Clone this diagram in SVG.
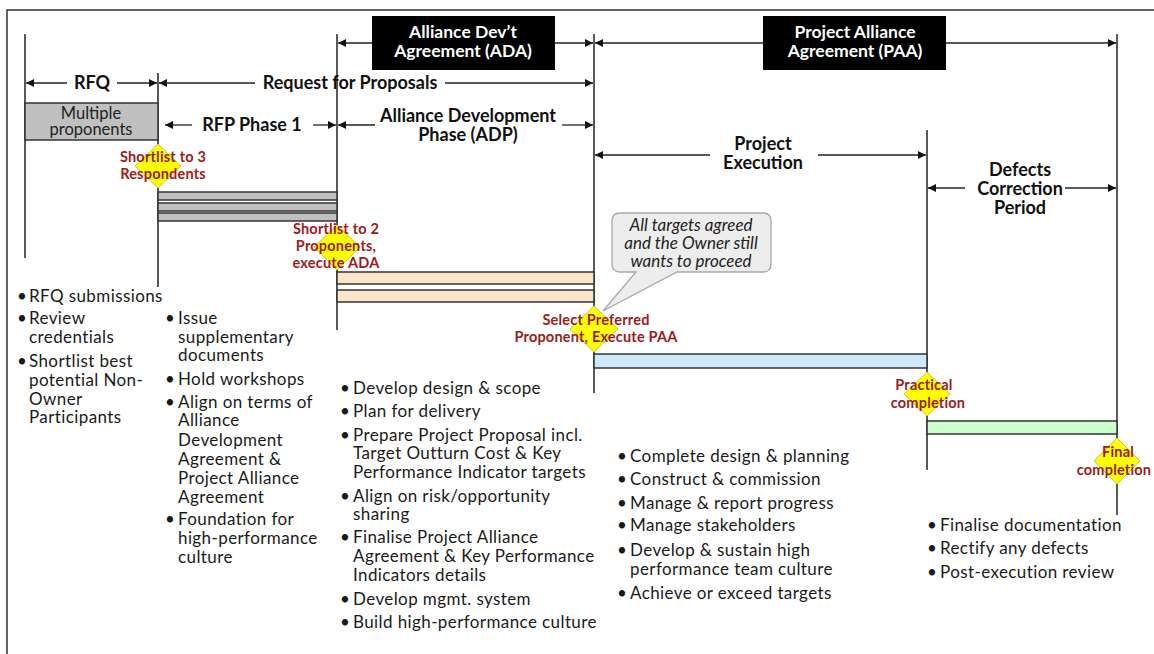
<svg xmlns="http://www.w3.org/2000/svg" width="1154" height="654" viewBox="0 0 1154 654">
<defs>
<marker id="ah" viewBox="0 0 10 10" refX="10" refY="5" markerWidth="9" markerHeight="8" markerUnits="userSpaceOnUse" orient="auto"><path d="M0,0 L10,5 L0,10 z" fill="#111"/></marker>
<style>
.v{stroke:#222;stroke-width:1.5;fill:none}
.a{stroke:#222;stroke-width:1.3;fill:none;marker-end:url(#ah)}
.hd{font-family:Lato,"Liberation Sans",sans-serif;font-weight:bold;font-size:18px;fill:#111;text-anchor:middle}
.bx{font-family:Lato,"Liberation Sans",sans-serif;font-weight:bold;font-size:17.5px;fill:#fff;text-anchor:middle}
.ms{font-family:Lato,"Liberation Sans",sans-serif;font-weight:bold;font-size:14.5px;letter-spacing:0.2px;fill:#9b1c1c;text-anchor:middle}
.bl{font-family:Lato,"Liberation Sans",sans-serif;font-size:17px;letter-spacing:0.4px;fill:#1a1a1a}
.dm{fill:#ffff00;stroke:#c4c43a;stroke-width:1}
.bar{stroke:#333;stroke-width:1.5}
.co{font-family:Lato,"Liberation Sans",sans-serif;font-style:italic;font-size:17px;fill:#222;text-anchor:middle}
.mp{font-family:Lato,"Liberation Sans",sans-serif;font-size:16.5px;fill:#222;text-anchor:middle}
</style>
</defs>
<rect width="1154" height="654" fill="#fff"/>
<rect x="7" y="10" width="1170" height="670" fill="none" stroke="#333" stroke-width="1.5"/>

<g id="gridlines">
<line class="v" x1="25" y1="34" x2="25" y2="258"/>
<line class="v" x1="158" y1="73" x2="158" y2="287"/>
<line class="v" x1="337" y1="34" x2="337" y2="330"/>
<line class="v" x1="594" y1="34" x2="594" y2="393"/>
<line class="v" x1="927" y1="130" x2="927" y2="470"/>
<line class="v" x1="1117" y1="34" x2="1117" y2="515"/>
</g>

<g id="connectors">
<line class="a" x1="372" y1="43" x2="338" y2="43"/>
<line class="a" x1="555" y1="43" x2="593" y2="43"/>
<line class="a" x1="763" y1="43" x2="595" y2="43"/>
<line class="a" x1="946" y1="43" x2="1116" y2="43"/>
<line class="a" x1="67" y1="83" x2="26" y2="83"/>
<line class="a" x1="117" y1="83" x2="157" y2="83"/>
<line class="a" x1="255" y1="83" x2="159" y2="83"/>
<line class="a" x1="445" y1="83" x2="593" y2="83"/>
<line class="a" x1="192" y1="125" x2="165" y2="125"/>
<line class="a" x1="313" y1="125" x2="336" y2="125"/>
<line class="a" x1="375" y1="125" x2="338" y2="125"/>
<line class="a" x1="562" y1="125" x2="593" y2="125"/>
<line class="a" x1="710" y1="155" x2="595" y2="155"/>
<line class="a" x1="818" y1="155" x2="926" y2="155"/>
<line class="a" x1="965" y1="188" x2="928" y2="188"/>
<line class="a" x1="1065" y1="188" x2="1116" y2="188"/>
</g>

<g id="ada-box">
<rect x="372" y="16" width="183" height="54" fill="#000"/>
<text class="bx" x="463" y="38">Alliance Dev’t</text>
<text class="bx" x="463" y="57">Agreement (ADA)</text>
</g>
<g id="paa-box">
<rect x="763" y="16" width="183" height="54" fill="#000"/>
<text class="bx" x="855" y="38">Project Alliance</text>
<text class="bx" x="855" y="57">Agreement (PAA)</text>
</g>

<g id="rfq-label"><text class="hd" x="92" y="89">RFQ</text></g>
<g id="rfp-label"><text class="hd" x="350" y="89">Request for Proposals</text></g>
<g id="rfp1-label"><text class="hd" x="252" y="131">RFP Phase 1</text></g>
<g id="adp-label"><text class="hd" x="468" y="122">Alliance Development</text><text class="hd" x="468" y="141">Phase (ADP)</text></g>
<g id="exec-label"><text class="hd" x="763" y="150">Project</text><text class="hd" x="763" y="169">Execution</text></g>
<g id="dcp-label"><text class="hd" x="1020" y="176">Defects</text><text class="hd" x="1020" y="195">Correction</text><text class="hd" x="1020" y="214">Period</text></g>

<g id="multiple-proponents">
<rect x="25" y="103" width="133" height="37" fill="#c0c0c0" class="bar"/>
<text class="mp" x="91" y="119">Multiple</text>
<text class="mp" x="91" y="135">proponents</text>
</g>

<g id="rfp-bars">
<rect class="bar" x="158" y="192" width="179" height="8" fill="#c0c0c0"/>
<rect class="bar" x="158" y="203" width="179" height="8" fill="#c0c0c0"/>
<rect class="bar" x="158" y="213" width="179" height="8" fill="#c0c0c0"/>
</g>
<g id="adp-bars">
<rect class="bar" x="337" y="272" width="257" height="12" fill="#fbe5c9"/>
<rect class="bar" x="337" y="290" width="257" height="12" fill="#fbe5c9"/>
</g>
<g id="exec-bar"><rect class="bar" x="594" y="354" width="333" height="14" fill="#cde9fb"/></g>
<g id="dcp-bar"><rect class="bar" x="927" y="421" width="190" height="13" fill="#ccffcc"/></g>

<g id="callout">
<path d="M620,213 H763 Q771,213 771,221 V264 Q771,272 763,272 H677 L603,311 L636,272 H620 Q612,272 612,264 V221 Q612,213 620,213 Z" fill="#ededed" stroke="#a8a8a8" stroke-width="1.3"/>
<text class="co" x="691" y="231">All targets agreed</text>
<text class="co" x="691" y="249">and the Owner still</text>
<text class="co" x="691" y="267">wants to proceed</text>
</g>

<g id="m-shortlist3">
<path class="dm" d="M158,144 L181,166 L158,188 L135,166 Z"/>
<text class="ms" x="163" y="162">Shortlist to 3</text>
<text class="ms" x="163" y="179">Respondents</text>
</g>
<g id="m-shortlist2">
<path class="dm" d="M337,225 L360,247 L337,270 L314,247 Z"/>
<text class="ms" x="336" y="234">Shortlist to 2</text>
<text class="ms" x="336" y="251">Proponents,</text>
<text class="ms" x="336" y="268">execute ADA</text>
</g>
<g id="m-preferred">
<path class="dm" d="M594,306 L618,329 L594,352 L570,329 Z"/>
<text class="ms" x="596" y="325">Select Preferred</text>
<text class="ms" x="596" y="342">Proponent, Execute PAA</text>
</g>
<g id="m-practical">
<path class="dm" d="M927,372 L950,394 L927,416 L904,394 Z"/>
<text class="ms" x="924" y="390">Practical</text>
<text class="ms" x="928" y="408">completion</text>
</g>
<g id="m-final">
<path class="dm" d="M1117,438 L1140,461 L1117,484 L1094,461 Z"/>
<text class="ms" x="1118" y="457">Final</text>
<text class="ms" x="1114" y="475">completion</text>
</g>

<g id="list-rfq" class="bl">
<text x="17" y="302">•</text><text x="29" y="302">RFQ submissions</text>
<text x="17" y="324">•</text><text x="29" y="324">Review</text>
<text x="29" y="343">credentials</text>
<text x="17" y="367">•</text><text x="29" y="367">Shortlist best</text>
<text x="29" y="386">potential Non-</text>
<text x="29" y="405">Owner</text>
<text x="29" y="423">Participants</text>
</g>

<g id="list-rfp1" class="bl">
<text x="165" y="324">•</text><text x="178" y="324">Issue</text>
<text x="178" y="343">supplementary</text>
<text x="178" y="361">documents</text>
<text x="165" y="385">•</text><text x="178" y="385">Hold workshops</text>
<text x="165" y="408">•</text><text x="178" y="408">Align on terms of</text>
<text x="178" y="426">Alliance</text>
<text x="178" y="446">Development</text>
<text x="178" y="465">Agreement &amp;</text>
<text x="178" y="484">Project Alliance</text>
<text x="178" y="503">Agreement</text>
<text x="165" y="525">•</text><text x="178" y="525">Foundation for</text>
<text x="178" y="544">high-performance</text>
<text x="178" y="563">culture</text>
</g>

<g id="list-adp" class="bl">
<text x="340" y="394">•</text><text x="353" y="394">Develop design &amp; scope</text>
<text x="340" y="417">•</text><text x="353" y="417">Plan for delivery</text>
<text x="340" y="441">•</text><text x="353" y="441">Prepare Project Proposal incl.</text>
<text x="353" y="459">Target Outturn Cost &amp; Key</text>
<text x="353" y="478">Performance Indicator targets</text>
<text x="340" y="502">•</text><text x="353" y="502">Align on risk/opportunity</text>
<text x="353" y="520">sharing</text>
<text x="340" y="543">•</text><text x="353" y="543">Finalise Project Alliance</text>
<text x="353" y="562">Agreement &amp; Key Performance</text>
<text x="353" y="581">Indicators details</text>
<text x="340" y="605">•</text><text x="353" y="605">Develop mgmt. system</text>
<text x="340" y="628">•</text><text x="353" y="628">Build high-performance culture</text>
</g>

<g id="list-exec" class="bl">
<text x="617" y="462">•</text><text x="630" y="462">Complete design &amp; planning</text>
<text x="617" y="485">•</text><text x="630" y="485">Construct &amp; commission</text>
<text x="617" y="509">•</text><text x="630" y="509">Manage &amp; report progress</text>
<text x="617" y="531">•</text><text x="630" y="531">Manage stakeholders</text>
<text x="617" y="556">•</text><text x="630" y="556">Develop &amp; sustain high</text>
<text x="630" y="575">performance team culture</text>
<text x="617" y="599">•</text><text x="630" y="599">Achieve or exceed targets</text>
</g>

<g id="list-dcp" class="bl">
<text x="927" y="531">•</text><text x="940" y="531">Finalise documentation</text>
<text x="927" y="554">•</text><text x="940" y="554">Rectify any defects</text>
<text x="927" y="578">•</text><text x="940" y="578">Post-execution review</text>
</g>
</svg>
